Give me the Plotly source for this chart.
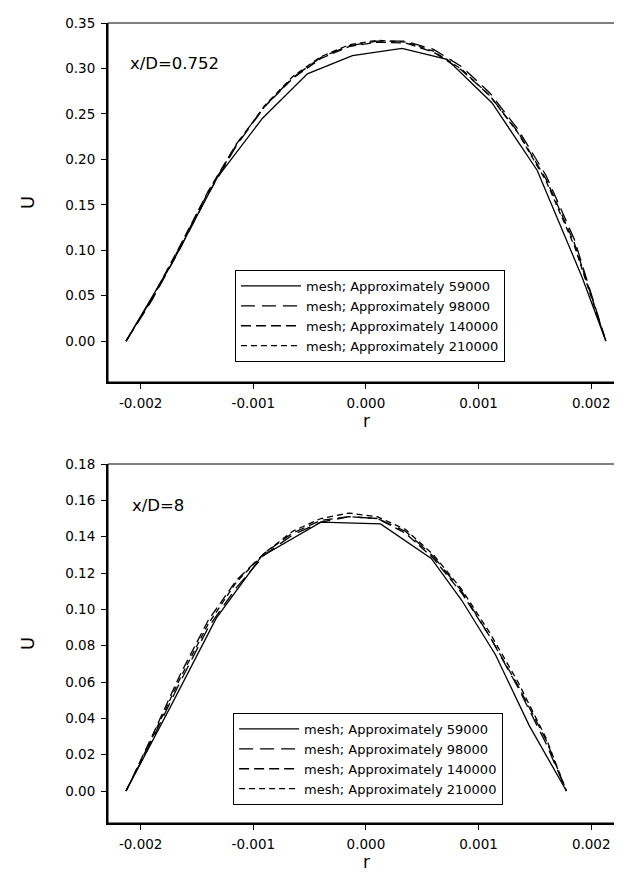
import plotly.graph_objects as go

# ---------------- data ----------------
series_names = ["mesh; Approximately 59000", "mesh; Approximately 98000",
                "mesh; Approximately 140000", "mesh; Approximately 210000"]

# top panel, x/D = 0.752
top_r59 = [-0.00213, -0.00172, -0.00132, -0.00092, -0.00052, -0.00012,
           0.00032, 0.00072, 0.00112, 0.00152, 0.00192, 0.00213]
top_u59 = [0, 0.086, 0.180, 0.245, 0.294, 0.314, 0.322, 0.310, 0.262, 0.188, 0.070, 0]

top_r = [-0.00213, -0.00190, -0.00165, -0.00140, -0.00115, -0.00090, -0.00065, -0.00040,
         -0.00015, 0.00010, 0.00035, 0.00060, 0.00085, 0.00110, 0.00135, 0.00160,
         0.00185, 0.00213]
top_u98 = [0, 0.045, 0.102, 0.162, 0.215, 0.258, 0.290, 0.312, 0.325, 0.330, 0.330,
           0.321, 0.302, 0.273, 0.233, 0.182, 0.112, 0]
top_u140 = [0, 0.047, 0.105, 0.165, 0.217, 0.258, 0.289, 0.311, 0.324, 0.329, 0.328,
            0.318, 0.298, 0.270, 0.230, 0.178, 0.108, 0]
top_u210 = [0, 0.046, 0.104, 0.164, 0.216, 0.259, 0.291, 0.313, 0.326, 0.331, 0.329,
            0.319, 0.299, 0.270, 0.229, 0.176, 0.105, 0]

# bottom panel, x/D = 8
bot_r59 = [-0.00213, -0.00173, -0.00133, -0.00093, -0.00040, 0.00013, 0.00058,
           0.00085, 0.00115, 0.00145, 0.00178]
bot_u59 = [0, 0.047, 0.095, 0.129, 0.148, 0.147, 0.128, 0.105, 0.075, 0.036, 0]

bot_r = [-0.00213, -0.00190, -0.00165, -0.00140, -0.00115, -0.00090, -0.00065, -0.00040,
         -0.00015, 0.00010, 0.00035, 0.00060, 0.00085, 0.00110, 0.00135, 0.00160, 0.00178]
bot_u98 = [0, 0.028, 0.060, 0.090, 0.112, 0.130, 0.141, 0.148, 0.151, 0.150, 0.143,
           0.129, 0.110, 0.085, 0.057, 0.026, 0]
bot_u140 = [0, 0.030, 0.064, 0.094, 0.116, 0.131, 0.142, 0.149, 0.151, 0.150, 0.142,
            0.128, 0.109, 0.085, 0.058, 0.028, 0]
bot_u210 = [0, 0.029, 0.062, 0.092, 0.115, 0.131, 0.143, 0.150, 0.153, 0.151, 0.144,
            0.130, 0.111, 0.087, 0.060, 0.029, 0]

x_tickvals = [-0.002, -0.001, 0.0, 0.001, 0.002]
x_ticktext = ["-0.002", "-0.001", "0.000", "0.001", "0.002"]
top_y_tickvals = [0.00, 0.05, 0.10, 0.15, 0.20, 0.25, 0.30, 0.35]
bot_y_tickvals = [0.00, 0.02, 0.04, 0.06, 0.08, 0.10, 0.12, 0.14, 0.16, 0.18]

panel_labels = ["x/D=0.752", "x/D=8"]

# ---------------- styling ----------------
FONT = "DejaVu Sans"
dashes = ["solid", "14px,7px", "10px,5px", "6px,4px"]
LW = 1.3

fig = go.Figure()

top_sets = [(top_r59, top_u59), (top_r, top_u98), (top_r, top_u140), (top_r, top_u210)]
bot_sets = [(bot_r59, bot_u59), (bot_r, bot_u98), (bot_r, bot_u140), (bot_r, bot_u210)]

for i, (rr, uu) in enumerate(top_sets):
    fig.add_trace(go.Scatter(x=rr, y=uu, mode="lines", name=series_names[i],
                             line=dict(color="black", width=LW, dash=dashes[i]),
                             xaxis="x", yaxis="y", legend="legend"))
for i, (rr, uu) in enumerate(bot_sets):
    fig.add_trace(go.Scatter(x=rr, y=uu, mode="lines", name=series_names[i],
                             line=dict(color="black", width=LW, dash=dashes[i]),
                             xaxis="x2", yaxis="y2", legend="legend2"))

axis_common = dict(showgrid=False, zeroline=False, showline=True, linewidth=2,
                   linecolor="black", ticks="outside", ticklen=5, tickwidth=1.2,
                   tickcolor="black", tickfont=dict(family=FONT, size=13.5, color="black"))

xcommon = dict(axis_common, range=[-0.00229, 0.0023], tickmode="array",
               tickvals=x_tickvals, ticktext=x_ticktext, ticklabelstandoff=3,
               title=dict(text="r", font=dict(family=FONT, size=17, color="black"),
                          standoff=2))

ytitle = dict(text="U", font=dict(family=FONT, size=18, color="black"), standoff=26)

legend_common = dict(xanchor="left", yanchor="top", bgcolor="white",
                     bordercolor="black", borderwidth=1, itemwidth=60,
                     font=dict(family=FONT, size=13, color="black"), tracegroupgap=0)

fig.update_layout(
    width=622, height=875,
    margin=dict(l=100, r=5, t=15, b=60),
    paper_bgcolor="white", plot_bgcolor="white",
    showlegend=True,
    xaxis=dict(xcommon, domain=[0, 1], anchor="y"),
    yaxis=dict(axis_common, domain=[0.55125, 1], anchor="x", range=[-0.045, 0.35],
               tickmode="array", tickvals=top_y_tickvals, tickformat=".2f",
               ticklabelstandoff=3, title=ytitle),
    xaxis2=dict(xcommon, domain=[0, 1], anchor="y2"),
    yaxis2=dict(axis_common, domain=[0, 0.44875], anchor="x2", range=[-0.0176, 0.18],
                tickmode="array", tickvals=bot_y_tickvals, tickformat=".2f",
                ticklabelstandoff=3, title=ytitle),
    legend=dict(legend_common, x=0.2456, y=0.69125),
    legend2=dict(legend_common, x=0.242, y=0.1375),
    annotations=[
        dict(text=panel_labels[0], xref="paper", yref="paper", x=0.0387, y=0.9488,
             xanchor="left", yanchor="middle", showarrow=False,
             font=dict(family=FONT, size=16.5, color="black")),
        dict(text=panel_labels[1], xref="paper", yref="paper", x=0.0425, y=0.3975,
             xanchor="left", yanchor="middle", showarrow=False,
             font=dict(family=FONT, size=16.5, color="black")),
    ],
    shapes=[
        dict(type="rect", xref="x domain", yref="y domain", x0=0, x1=1, y0=0, y1=1,
             line=dict(color="black", width=1), layer="above"),
        dict(type="rect", xref="x2 domain", yref="y2 domain", x0=0, x1=1, y0=0, y1=1,
             line=dict(color="black", width=1), layer="above"),
    ],
)

fig.write_html("out.html")
